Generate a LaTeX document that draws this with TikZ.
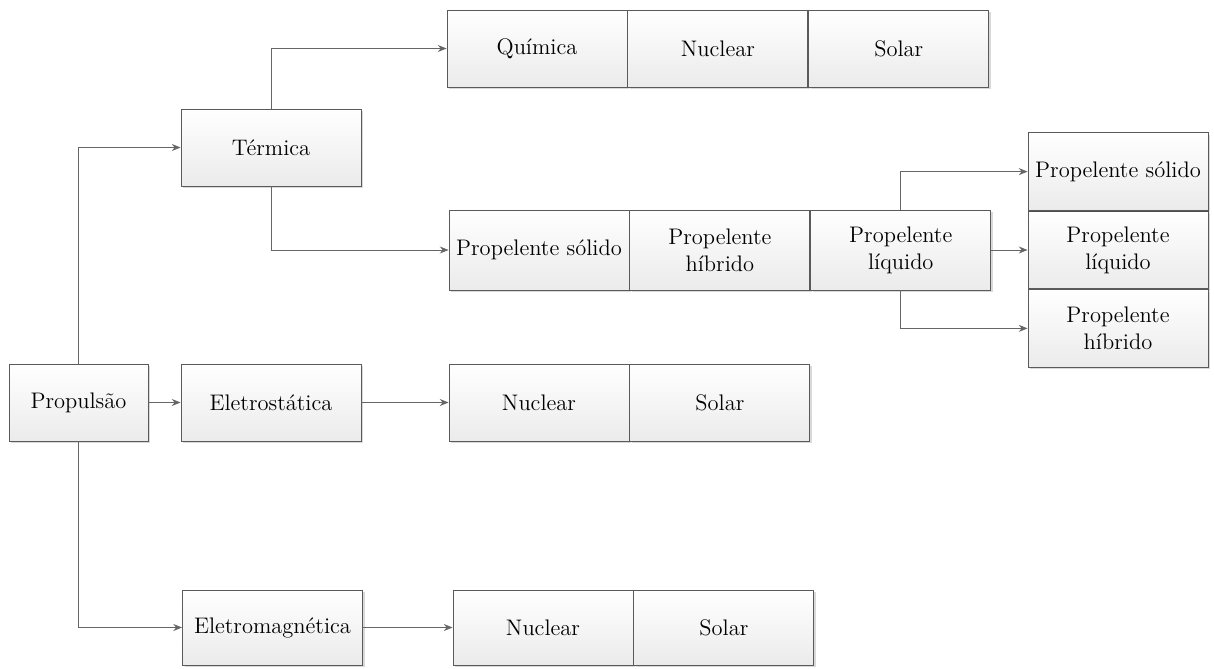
\documentclass[tikz,border=0pt]{standalone}
\usetikzlibrary{arrows.meta,positioning,shadows}
\definecolor{box-line}{HTML}{5A5A5A}
\definecolor{box-fill}{HTML}{EBEBEB}
\definecolor{link-line}{HTML}{666666}
\tikzset{
  bloco/.style={
    rectangle, draw=box-line, line width=0.5pt,
    top color=white, bottom color=box-fill,
    minimum width=3.6cm, minimum height=1.54cm,
    inner sep=1pt, align=center,
    font=\fontsize{12.8}{15.5}\selectfont,
    drop shadow={shadow xshift=0.04cm, shadow yshift=-0.04cm,
                 fill=black, opacity=0.15}
  },
  celula/.style={
    bloco, minimum width=3.6cm
  },
  seta/.style={
    -{Stealth[length=5pt,width=4pt]}, line width=0.5pt,
    draw=link-line
  },
}

\begin{document}
\begin{tikzpicture}
  \useasboundingbox (0,0) rectangle (24.28,-13.36);

  % ramos principais
  \node[bloco, minimum width=2.78cm] (prop) at (1.57,-8.05) {Propulsão};
  \node[bloco] (term)  at (5.42,-2.95)  {Térmica};
  \node[bloco] (estat) at (5.42,-8.05)  {Eletrostática};
  \node[bloco, minimum height=1.5cm] (emag) at (5.45,-12.55) {Eletromagnética};

  % fontes de energia
  \node[celula] (quim) at (10.74,-0.97) {Química};
  \node[celula, right=0pt of quim] (nuc1) {Nuclear};
  \node[celula, right=0pt of nuc1] (sol1) {Solar};

  \node[celula, minimum height=1.6cm] (psol) at (10.78,-5.0) {Propelente sólido};
  \node[celula, minimum height=1.6cm, right=0pt of psol] (phib) {Propelente\\híbrido};
  \node[celula, minimum height=1.6cm, right=0pt of phib] (pliq) {Propelente\\líquido};

  \node[celula] (nuc2) at (10.78,-8.05) {Nuclear};
  \node[celula, right=0pt of nuc2] (sol2) {Solar};

  \node[celula, minimum height=1.5cm] (nuc3) at (10.86,-12.55) {Nuclear};
  \node[celula, minimum height=1.5cm, right=0pt of nuc3] (sol3) {Solar};

  % propelente liquido
  \node[celula, minimum height=1.55cm] (rliq) at (22.36,-5.0) {Propelente\\líquido};
  \node[celula, minimum height=1.55cm, above=0pt of rliq] (rsol) {Propelente sólido};
  \node[celula, minimum height=1.55cm, below=0pt of rliq] (rhib) {Propelente\\híbrido};

  \draw[seta] (prop.north) |- (term.west);
  \draw[seta] (prop) -- (estat);
  \draw[seta] (prop.south) |- (emag.west);
  \draw[seta] (term.north) |- (quim.west);
  \draw[seta] (term.south) |- (psol.west);
  \draw[seta] (estat) -- (nuc2);
  \draw[seta] (emag) -- (nuc3);
  \draw[seta] (pliq.north) |- (rsol.west);
  \draw[seta] (pliq) -- (rliq);
  \draw[seta] (pliq.south) |- (rhib.west);

\end{tikzpicture}
\end{document}
